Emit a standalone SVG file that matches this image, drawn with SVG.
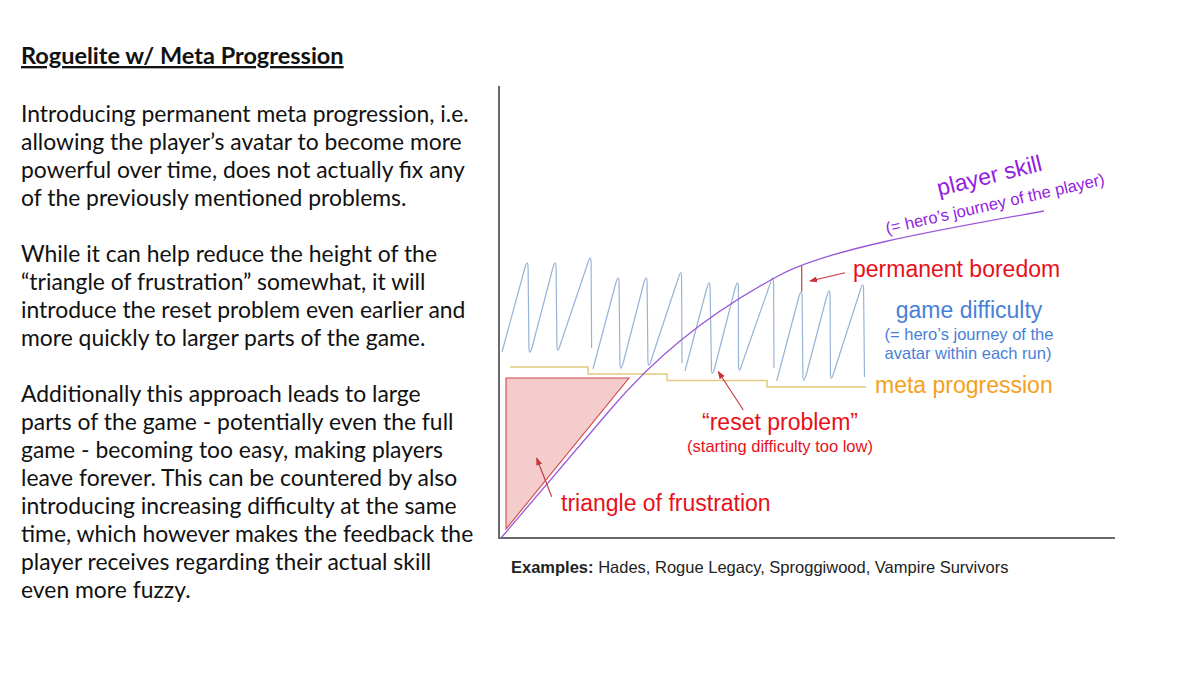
<svg xmlns="http://www.w3.org/2000/svg" width="1200" height="675" viewBox="0 0 1200 675">
<defs>
<marker id="ah" markerUnits="userSpaceOnUse" markerWidth="8" markerHeight="8" viewBox="0 0 8 8" refX="7" refY="4" orient="auto">
<path d="M0,1 L8,4 L0,7 Z" fill="#c8323a"/>
</marker>
<style>
.body{font-family:Lato,"Noto Sans",sans-serif;font-size:22.9px;fill:#111}
.title{font-family:Lato,"Noto Sans",sans-serif;font-size:23.5px;font-weight:bold;fill:#111;text-decoration:underline}
.lbl{font-family:"Liberation Sans",Arial,sans-serif;font-size:23px}
.sm{font-family:"Liberation Sans",Arial,sans-serif;font-size:16.5px}
.red{fill:#e8101a}
.blue{fill:#4a7fd8}
.orange{fill:#f5a020}
.purple{fill:#9320e0}
.wave{fill:none;stroke:#96b4d8;stroke-width:1.2}
.arrow{fill:none;stroke:#c8323a;stroke-width:1.1}
</style>
</defs>
<rect width="1200" height="675" fill="#ffffff"/>

<g id="text-panel">
<text class="title" x="21" y="64">Roguelite w/ Meta Progression</text>
<text class="body" x="21" y="122">Introducing permanent meta progression, i.e.</text>
<text class="body" x="21" y="150">allowing the player’s avatar to become more</text>
<text class="body" x="21" y="178">powerful over time, does not actually fix any</text>
<text class="body" x="21" y="206">of the previously mentioned problems.</text>
<text class="body" x="21" y="262">While it can help reduce the height of the</text>
<text class="body" x="21" y="290">“triangle of frustration” somewhat, it will</text>
<text class="body" x="21" y="318">introduce the reset problem even earlier and</text>
<text class="body" x="21" y="346">more quickly to larger parts of the game.</text>
<text class="body" x="21" y="402">Additionally this approach leads to large</text>
<text class="body" x="21" y="430">parts of the game - potentially even the full</text>
<text class="body" x="21" y="458">game - becoming too easy, making players</text>
<text class="body" x="21" y="486">leave forever. This can be countered by also</text>
<text class="body" x="21" y="514">introducing increasing difficulty at the same</text>
<text class="body" x="21" y="542">time, which however makes the feedback the</text>
<text class="body" x="21" y="570">player receives regarding their actual skill</text>
<text class="body" x="21" y="598">even more fuzzy.</text>
</g>

<g id="axes">
<path d="M499,86 V538 H1115" fill="none" stroke="#6a6a6a" stroke-width="2"/>
</g>

<g id="triangle-of-frustration">
<polygon points="506,378 629,378 506,529" fill="#f4cccc" stroke="#d0484c" stroke-width="1.1"/>
<text class="lbl red" x="561" y="511">triangle of frustration</text>
</g>

<g id="meta-progression">
<path d="M510,367 H588 V374 H667 V380.5 H767 V387 H866" fill="none" stroke="#e2c97e" stroke-width="1.5"/>
<text class="lbl orange" x="875" y="393">meta progression</text>
</g>

<g id="game-difficulty">
<path class="wave" d="M502,352 L524.7,268.5 Q528,257 528.1,269 L528.9,346 Q529,358 532.3,346.5 L552.7,268.5 Q556,257 556.1,269 L556.9,344 Q557,356 560.3,344.5 L587.7,263.5 Q591,252 591.1,264 L591.6,348"/>
<path class="wave" d="M593,369 L615.7,283.5 Q619,272 619.1,284 L619.9,362 Q620,374 623.3,362.5 L643.7,283.5 Q647,272 647.1,284 L647.9,359 Q648,371 651.3,359.5 L678.2,278.5 Q681.5,267 681.6,279 L682,363"/>
<path class="wave" d="M685,371 L706.7,288.5 Q710,277 710.1,289 L711.4,367 Q711.5,379 714.8,367.5 L735,288.5 Q738.3,277 738.4,289 L738.5,364 Q738.6,376 741.9,364.5 L770.2,283.5 Q773.5,272 773.6,284 L774,368"/>
<path class="wave" d="M776.7,381 L798.7,297.5 Q802,286 802.1,298 L802.9,374 Q803,386 806.3,374.5 L826.7,296.5 Q830,285 830.1,297 L830.4,372 Q830.5,384 833.8,372.5 L860.2,290.5 Q863.5,279 863.6,291 L864.5,377"/>
<text class="lbl blue" x="969" y="318" text-anchor="middle">game difficulty</text>
<text class="sm blue" x="969" y="340" text-anchor="middle">(= hero’s journey of the</text>
<text class="sm blue" x="968" y="359" text-anchor="middle">avatar within each run)</text>
</g>

<g id="player-skill">
<path d="M501,538 L610,410 C650,363 700,318 780,275 C830,248 950,228 1044,211" fill="none" stroke="#9b59d9" stroke-width="1.3"/>
<text class="lbl purple" transform="translate(939,196) rotate(-13.8)">player skill</text>
<text class="sm purple" transform="translate(887,234) rotate(-12.8)">(= hero’s journey of the player)</text>
</g>

<g id="permanent-boredom">
<line x1="801.7" y1="266" x2="801.7" y2="291.5" stroke="#c0504d" stroke-width="1.3"/>
<text class="lbl red" x="853" y="277">permanent boredom</text>
</g>

<g id="reset-problem">
<text class="lbl red" x="780" y="430" text-anchor="middle">“reset problem”</text>
<text class="sm red" x="780" y="452" text-anchor="middle">(starting difficulty too low)</text>
</g>

<g id="connectors">
<line class="arrow" x1="845" y1="272.7" x2="810" y2="281" marker-end="url(#ah)"/>
<line class="arrow" x1="743.3" y1="410" x2="718.3" y2="371.7" marker-end="url(#ah)"/>
<line class="arrow" x1="551.7" y1="496.7" x2="536.7" y2="458.3" marker-end="url(#ah)"/>
</g>

<g id="examples">
<text class="sm" x="511" y="573" fill="#222"><tspan font-weight="bold">Examples:</tspan> Hades, Rogue Legacy, Sproggiwood, Vampire Survivors</text>
</g>
</svg>
